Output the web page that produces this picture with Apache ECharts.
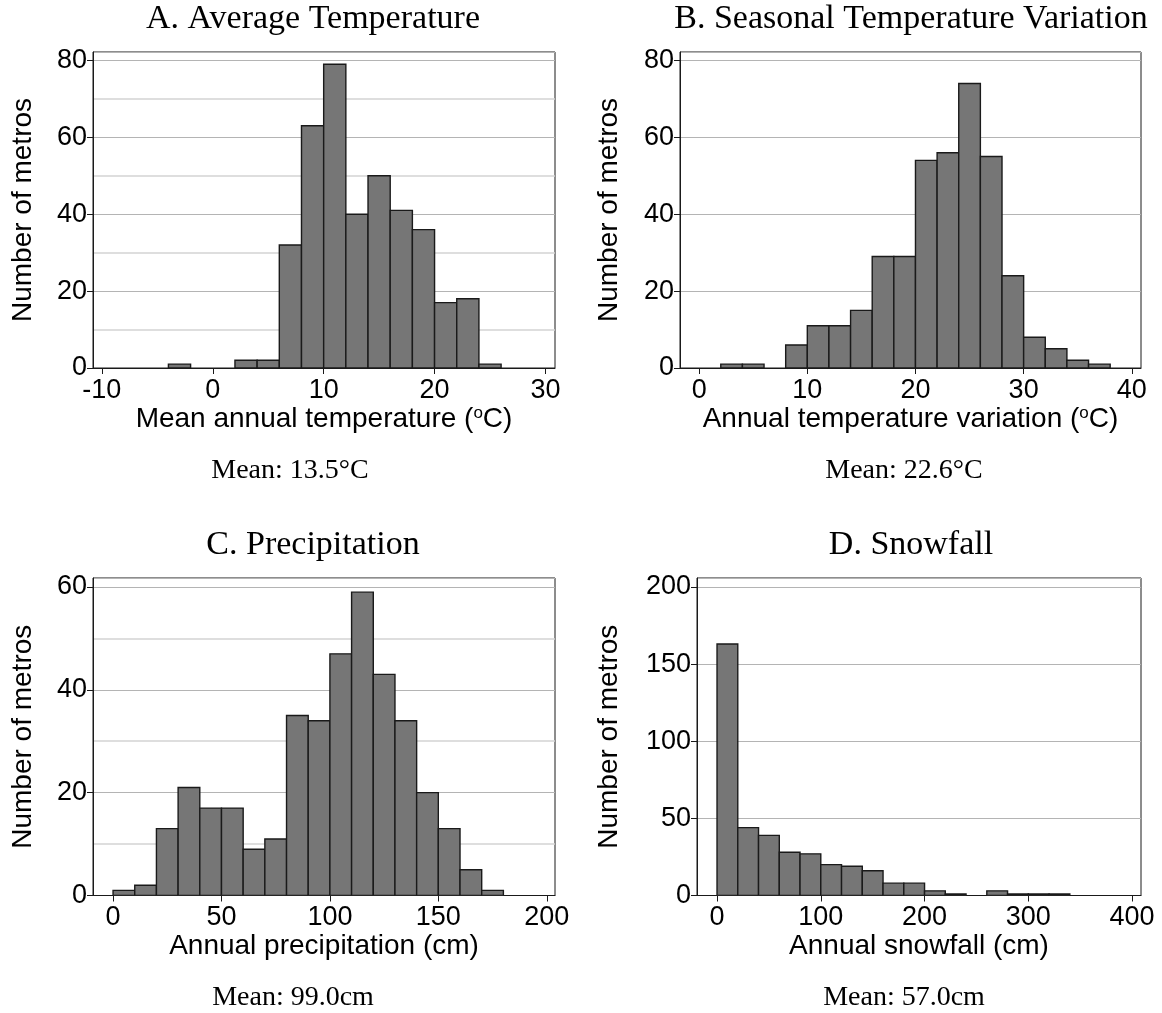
<!DOCTYPE html>
<html>
<head>
<meta charset="utf-8">
<script src="https://cdn.jsdelivr.net/npm/echarts@6/dist/echarts.min.js"></script>
<style>
	html, body { margin: 0; padding: 0; background: #fff; }
	#chart { width: 1162px; height: 1013px; }
</style>
</head>
<body>
<div id="chart"></div>
<script>
// Histogram bins: start of each bin and the count in it.
const tempBinStarts = [ -4, -2, 0, 2, 4, 6, 8, 10, 12, 14, 16, 18, 20, 22, 24 ];
const tempCounts = [ 1, 0, 0, 2, 2, 32, 63, 79, 40, 50, 41, 36, 17, 18, 1 ];
const tempBinWidth = 2;

const rangeBinStarts = [ 2, 4, 6, 8, 10, 12, 14, 16, 18, 20, 22, 24, 26, 28, 30, 32, 34, 36 ];
const rangeCounts = [ 1, 1, 0, 6, 11, 11, 15, 29, 29, 54, 56, 74, 55, 24, 8, 5, 2, 1 ];
const rangeBinWidth = 2;

const precipBinStarts = [ 0, 10, 20, 30, 40, 50, 60, 70, 80, 90, 100, 110, 120, 130, 140, 150, 160, 170 ];
const precipCounts = [ 1, 2, 13, 21, 17, 17, 9, 11, 35, 34, 47, 59, 43, 34, 20, 13, 5, 1 ];
const precipBinWidth = 10;

const snowBinStarts = [ 0, 20, 40, 60, 80, 100, 120, 140, 160, 180, 200, 220, 240, 260, 280, 300, 320 ];
const snowCounts = [ 163, 44, 39, 28, 27, 20, 19, 16, 8, 8, 3, 1, 0, 3, 1, 1, 1 ];
const snowBinWidth = 20;

// Tick labels on the x axes.
const tempTicks = [ -10, 0, 10, 20, 30 ];
const rangeTicks = [ 0, 10, 20, 30, 40 ];
const precipTicks = [ 0, 50, 100, 150, 200 ];
const snowTicks = [ 0, 100, 200, 300, 400 ];

const panelTitles = [ 'A. Average Temperature', 'B. Seasonal Temperature Variation', 'C. Precipitation', 'D. Snowfall' ];
const xAxisNames = [
	'{t|Mean annual temperature (}{s|o}{t|C)}',
	'{t|Annual temperature variation (}{s|o}{t|C)}',
	'{t|Annual precipitation (cm)}',
	'{t|Annual snowfall (cm)}'
];
const meanNotes = [ 'Mean: 13.5°C', 'Mean: 22.6°C', 'Mean: 99.0cm', 'Mean: 57.0cm' ];

const SANS = 'Liberation Sans, Arial, Helvetica, sans-serif';
const SERIF = 'Liberation Serif, Times New Roman, serif';
const INK = '#1a1a1a';
const BAR_FILL = '#767676';

const toBins = ( starts, counts, width ) => starts.map( ( s, i ) => [ s, s + width, counts[ i ] ] );

const panels = [
	{
		grid: { left: 93, top: 52, width: 462, height: 316 },
		xMin: -10.8, xMax: 30.86, ticks: tempTicks,
		yMax: 82.2, yStep: 20, minor: true, nameGapY: 56,
		bins: toBins( tempBinStarts, tempCounts, tempBinWidth ),
		titleX: 308, titleY: -3, noteX: 285, noteY: 452
	},
	{
		grid: { left: 680, top: 52, width: 461, height: 316 },
		xMin: -1.77, xMax: 40.85, ticks: rangeTicks,
		yMax: 82.2, yStep: 20, minor: false, nameGapY: 57,
		bins: toBins( rangeBinStarts, rangeCounts, rangeBinWidth ),
		titleX: 906, titleY: -3, noteX: 899, noteY: 452
	},
	{
		grid: { left: 93, top: 578, width: 462, height: 317.5 },
		xMin: -9.25, xMax: 203.8, ticks: precipTicks,
		yMax: 61.75, yStep: 20, minor: true, nameGapY: 56,
		bins: toBins( precipBinStarts, precipCounts, precipBinWidth ),
		titleX: 308, titleY: 523, noteX: 288, noteY: 979
	},
	{
		grid: { left: 697, top: 578, width: 444, height: 317.5 },
		xMin: -19.3, xMax: 408.6, ticks: snowTicks,
		yMax: 205.8, yStep: 50, minor: false, nameGapY: 74,
		bins: toBins( snowBinStarts, snowCounts, snowBinWidth ),
		titleX: 906, titleY: 523, noteX: 899, noteY: 979
	}
];

/**
 * Draws one histogram bin as a rectangle through the axis scales.
 *
 * @param {Object} params
 * @param {Object} api
 * @return {Object|null}
 */
const renderBin = ( params, api ) => {
	const count = api.value( 2 );
	if ( !count ) {
		return null;
	}
	const topLeft = api.coord( [ api.value( 0 ), count ] );
	const bottomRight = api.coord( [ api.value( 1 ), 0 ] );
	return {
		type: 'rect',
		shape: {
			x: topLeft[ 0 ],
			y: topLeft[ 1 ],
			width: bottomRight[ 0 ] - topLeft[ 0 ],
			height: bottomRight[ 1 ] - topLeft[ 1 ]
		},
		style: { fill: BAR_FILL, stroke: INK, lineWidth: 1.4 }
	};
};

const chart = echarts.init( document.getElementById( 'chart' ), null, { renderer: 'canvas' } );

const option = {
	animation: false,
	backgroundColor: '#fff',
	title: [],
	grid: [],
	xAxis: [],
	yAxis: [],
	series: []
};

panels.forEach( ( p, i ) => {
	option.grid.push( Object.assign( {
		show: true,
		borderColor: INK,
		borderWidth: 1,
		backgroundColor: 'transparent'
	}, p.grid ) );

	option.xAxis.push( {
		type: 'value',
		gridIndex: i,
		min: p.xMin,
		max: p.xMax,
		name: xAxisNames[ i ],
		nameLocation: 'middle',
		nameGap: 36,
		nameTextStyle: {
			rich: {
				t: { fontFamily: SANS, fontSize: 28, color: '#000' },
				s: { fontFamily: SANS, fontSize: 17, color: '#000', padding: [ 0, 0, 12, 0 ] }
			}
		},
		axisLine: { show: true, onZero: false, lineStyle: { color: INK, width: 1 } },
		axisTick: { show: true, length: 6, customValues: p.ticks, lineStyle: { color: INK } },
		axisLabel: { customValues: p.ticks, margin: 9, fontFamily: SANS, fontSize: 27, color: '#000' },
		splitLine: { show: false }
	} );

	option.yAxis.push( {
		type: 'value',
		gridIndex: i,
		min: 0,
		max: p.yMax,
		interval: p.yStep,
		name: 'Number of metros',
		nameLocation: 'middle',
		nameGap: p.nameGapY,
		nameTextStyle: { fontFamily: SANS, fontSize: 28, color: '#000' },
		axisLine: { show: true, onZero: false, lineStyle: { color: INK, width: 1 } },
		axisTick: { show: true, length: 6, lineStyle: { color: INK } },
		axisLabel: {
			showMaxLabel: false,
			margin: 6,
			fontFamily: SANS,
			fontSize: 27,
			color: '#000'
		},
		splitLine: { show: true, lineStyle: { color: '#b4b4b4', width: 1 } },
		minorTick: { show: false, splitNumber: 2 },
		minorSplitLine: { show: p.minor, lineStyle: { color: '#d4d4d4', width: 1.5 } }
	} );

	option.series.push( {
		type: 'custom',
		xAxisIndex: i,
		yAxisIndex: i,
		renderItem: renderBin,
		encode: { x: [ 0, 1 ], y: 2 },
		data: p.bins,
		clip: true
	} );

	option.title.push( {
		text: panelTitles[ i ],
		left: p.titleX,
		top: p.titleY,
		textAlign: 'center',
		textStyle: { fontFamily: SERIF, fontSize: 34, fontWeight: 'normal', color: '#000' }
	} );
	option.title.push( {
		text: meanNotes[ i ],
		left: p.noteX,
		top: p.noteY,
		textAlign: 'center',
		textStyle: { fontFamily: SERIF, fontSize: 28, fontWeight: 'normal', color: '#000' }
	} );
} );

chart.setOption( option );
</script>
</body>
</html>
